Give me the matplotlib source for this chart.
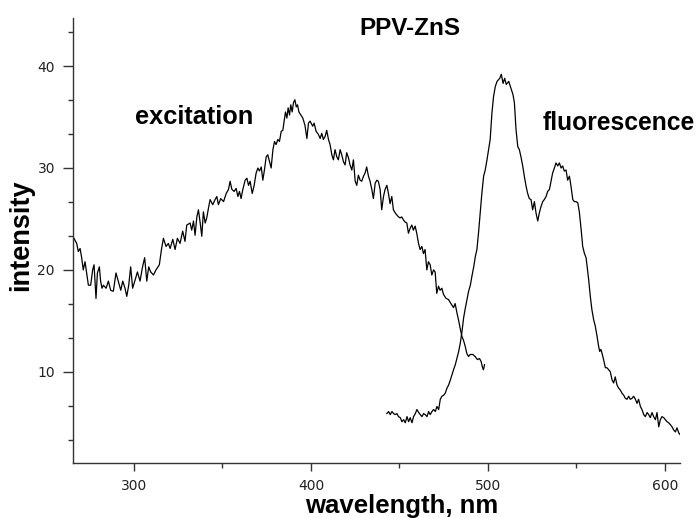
import matplotlib
matplotlib.use("Agg")
import matplotlib.pyplot as plt
from matplotlib.ticker import AutoMinorLocator

# ---------------- data ----------------
ex_wl = [265.7, 267.6, 268.5, 269.5, 270.4, 271.3, 272.3, 273.2, 274.2, 275.5,
         276.6, 277.4, 278.5, 279.3, 280.4, 281.1, 281.9, 282.7, 284.2, 285.5,
         286.8, 288.3, 289.8, 291.1, 292.5, 293.6, 294.9, 295.9, 297.0, 298.1,
         299.2, 300.6, 301.9, 303.4, 304.7, 306.0, 307.2, 308.3, 309.4, 311.0,
         312.4, 314.3, 315.5, 316.6, 318.1, 319.4, 320.4, 321.9, 323.2, 324.5,
         326.0, 327.5, 328.8, 329.8,
         331.7, 332.6, 333.6, 334.5, 335.5, 336.4, 337.4, 338.3, 339.2, 340.2,
         341.1, 342.1, 343.0, 344.5, 345.8, 346.8, 347.7, 349.0, 350.6, 352.1,
         353.4, 354.3, 355.3, 356.6, 357.7, 358.7, 359.6, 360.5, 361.5, 362.8,
         363.8, 364.7, 365.6, 366.8, 367.9, 369.0, 370.0, 370.9, 371.9, 372.8,
         373.7, 374.7, 375.6, 376.6, 377.5, 378.5, 379.4, 380.3, 381.3, 382.2,
         383.2, 384.1, 384.9, 385.6, 386.4, 387.1, 387.9, 388.6, 389.4, 390.1,
         390.9, 391.7, 392.4, 393.2, 394.3, 395.4, 396.6, 397.7, 398.6,
         399.5, 401.0, 401.8, 402.9, 404.2, 405.2, 406.1, 407.0, 408.0, 408.9,
         409.9, 410.8, 411.8, 412.7, 413.6, 414.6, 415.5, 416.5, 417.4, 418.4,
         419.3, 420.2, 421.2, 422.1, 423.1, 424.0, 425.0, 425.9, 426.8, 427.8,
         428.7, 429.7, 430.6, 431.5, 432.5, 433.4, 434.4, 435.3, 436.3, 437.2,
         438.1, 439.1, 440.0, 441.0, 441.9, 442.9, 443.8, 444.7, 445.7, 446.6,
         447.6, 448.5, 449.5, 450.4, 451.3, 452.3, 453.2, 454.2, 455.1, 456.1,
         457.0, 457.9, 458.9, 459.8, 460.8, 461.7, 462.7, 463.6, 464.5, 465.5,
         466.4, 467.4, 468.3, 469.3, 470.2, 471.1, 472.1, 473.0, 474.0, 474.9,
         476.4, 477.7, 479.1, 480.6, 481.5, 482.5, 483.4, 484.3, 485.3, 486.2,
         487.2, 488.1, 489.1, 490.0, 491.5, 492.8, 494.1, 495.3, 496.2, 497.0,
         497.5, 498.1]
ex_int = [23.2, 22.6, 21.8, 22.1, 21.2, 20.0, 20.8, 19.7, 18.5, 18.5,
          20.0, 20.5, 17.2, 19.7, 20.3, 18.9, 18.2, 18.5, 18.2, 18.9,
          18.0, 17.9, 19.7, 18.9, 18.0, 18.9, 18.2, 17.4, 18.5, 20.3,
          18.2, 19.0, 19.8, 18.9, 20.2, 21.2, 18.9, 20.3, 19.8, 19.5,
          20.0, 20.5, 22.0, 23.1, 22.3, 22.6, 22.1, 23.0, 22.0, 23.1,
          22.6, 23.8, 22.8, 24.4,
          24.6, 23.9, 24.8, 23.4, 25.2, 25.9, 24.6, 23.3, 25.7, 24.6,
          25.1, 26.1, 26.9, 26.4, 26.9, 27.2, 26.4, 27.0, 26.7, 27.5,
          27.9, 28.7, 27.9, 27.7, 28.0, 27.2, 27.7, 27.0, 27.9, 28.8,
          29.0, 28.3, 28.7, 27.5, 28.3, 29.5, 30.0, 29.7, 30.1, 28.8,
          29.8, 31.1, 31.3, 30.6, 30.0, 31.8, 32.6, 32.3, 32.8, 32.6,
          33.6, 33.7, 34.7, 35.5, 34.9, 35.9, 35.2, 36.2, 35.5, 36.4,
          36.7, 36.0, 36.2, 35.5, 35.2, 34.9, 34.2, 32.9, 34.4,
          34.6, 34.1, 34.4, 33.6, 33.3, 32.9, 33.4, 32.8, 33.1, 33.7,
          32.8, 32.3, 31.3, 30.8, 31.8, 31.1, 30.8, 31.8, 31.3, 30.6,
          30.3, 31.5, 31.0, 30.3, 29.8, 30.8, 28.7, 28.3, 29.3, 28.8,
          28.7, 29.2, 29.5, 30.1, 29.2, 28.7, 27.9, 27.0, 28.5, 28.8,
          28.7, 27.9, 25.9, 27.2, 27.9, 28.3, 27.5, 26.5, 27.2, 25.9,
          25.6, 25.4, 25.2, 25.1, 25.2, 24.9, 24.7, 24.6, 23.6, 24.1,
          24.4, 23.9, 24.3, 23.6, 22.6, 22.0, 22.3, 21.6, 22.0, 20.0,
          20.8, 20.5, 19.5, 20.0, 19.8, 17.7, 18.4, 18.0, 18.2, 17.6,
          17.2, 17.1, 16.7, 16.3, 16.7, 15.8, 15.1, 14.3, 13.5, 13.1,
          12.5, 11.8, 11.5, 11.7, 11.7, 11.5, 11.2, 11.3, 11.0, 10.4,
          10.2, 10.7]

fl_wl = [442.9, 443.9, 444.8, 445.8, 446.7, 447.7, 448.6, 449.5, 450.5, 451.4,
         452.4, 453.3, 454.3, 455.2, 456.1, 457.1, 458.0, 459.0, 459.9, 460.9,
         461.8, 462.7, 463.7, 464.6, 465.6, 466.5, 467.4, 468.4, 469.3, 470.3,
         471.2, 472.2, 473.1, 474.0, 475.0, 475.9, 476.9, 477.8, 478.8, 479.7,
         480.6, 481.6, 482.5, 483.5, 484.4, 485.4, 486.3, 487.2, 488.2, 489.1,
         490.1, 491.0, 492.0, 492.9, 493.8, 494.7, 495.7, 496.6, 497.6, 498.5,
         499.5, 500.4, 501.3, 502.3, 503.2, 504.2, 505.2, 506.7, 507.6, 508.6,
         509.5, 510.4, 511.8, 513.1, 514.2, 515.0, 515.9, 516.9, 517.8, 518.7,
         519.7, 520.6, 521.6, 522.5, 523.4, 524.4, 525.3, 526.3, 527.2, 528.2,
         529.1, 530.0, 531.0, 531.9, 532.9, 533.8, 534.8, 535.7, 536.6, 537.6,
         538.5, 539.5, 540.4, 541.4, 542.3, 543.2, 544.2, 545.1, 546.1, 547.0,
         548.0, 548.9, 549.8, 550.8, 551.7, 552.7, 553.6, 554.6, 555.5, 556.0,
         557.0, 557.9, 558.8, 559.8, 560.7, 561.7, 562.6, 563.2, 563.9, 564.7,
         565.4, 566.4, 567.3, 568.3, 569.2, 570.2, 571.1, 572.0, 573.0, 573.9,
         574.9, 575.8, 576.8, 577.7, 578.6, 579.6, 580.5, 581.5, 582.4, 583.4,
         584.3, 585.2, 586.2, 587.1, 588.1, 589.0, 590.0, 590.9, 591.8, 592.8,
         593.7, 594.7, 595.6, 596.6, 597.5, 598.4, 599.4, 600.3, 601.3, 602.2,
         603.2, 604.1, 605.0, 606.0, 606.9, 607.9, 608.8]
fl_int = [5.9, 6.1, 5.8, 6.1, 5.9, 5.8, 5.9, 5.6, 5.5, 5.1,
          5.3, 5.0, 5.6, 5.1, 5.5, 5.0, 5.6, 5.9, 6.3, 6.0,
          5.8, 5.6, 5.9, 5.8, 5.6, 6.1, 5.8, 6.1, 6.3, 6.1,
          6.6, 6.3, 7.3, 7.6, 7.7, 7.9, 8.4, 8.7, 9.2, 9.7,
          10.2, 10.7, 11.3, 12.0, 12.8, 14.0, 15.3, 16.2, 17.1, 17.9,
          18.5, 19.4, 20.3, 21.3, 22.0, 23.6, 25.6, 27.5, 29.2, 29.8,
          30.8, 31.8, 32.8, 35.4, 37.0, 38.0, 38.5, 38.8, 39.2, 38.3,
          38.8, 38.2, 38.5, 37.8, 37.2, 36.4, 33.8, 32.1, 31.8, 31.1,
          30.2, 29.2, 28.2, 27.5, 27.0, 26.9, 25.9, 26.7, 25.6, 24.8,
          25.6, 26.2, 26.7, 26.9, 27.2, 27.7, 27.9, 28.7, 29.5, 30.0,
          30.5, 30.2, 30.5, 30.0, 30.2, 29.7, 29.8, 28.8, 29.2, 28.2,
          26.9, 26.7, 26.7, 26.6, 25.7, 24.0, 22.3, 21.6, 21.2, 20.5,
          19.0, 17.4, 16.1, 15.1, 14.5, 13.5, 12.5, 12.0, 12.2, 11.7,
          11.2, 10.4, 10.4, 10.2, 10.0, 9.2, 8.9, 9.5, 8.7, 8.4,
          8.2, 7.9, 7.7, 7.4, 7.3, 7.6, 7.3, 7.4, 7.6, 7.3,
          6.9, 7.3, 6.6, 6.3, 5.8, 5.6, 6.0, 5.8, 5.5, 6.0,
          5.6, 5.3, 6.0, 4.6, 5.3, 5.6, 5.5, 5.3, 5.1, 5.0,
          4.8, 4.6, 4.3, 4.1, 4.5, 4.0, 3.8]

x_ticks = [300, 400, 500, 600]
y_ticks = [10, 20, 30, 40]
title_text = "PPV-ZnS"
x_label = "wavelength, nm"
y_label = "intensity"
ex_label = "excitation"
fl_label = "fluorescence"

# ---------------- figure ----------------
W, H = 700, 518
fig = plt.figure(figsize=(W / 100, H / 100), dpi=100)
ax = fig.add_axes([73 / W, 1 - 463 / H, (680 - 73) / W, (463 - 18) / H])

ax.plot(ex_wl, ex_int, color="black", lw=0.9)
ax.plot(fl_wl, fl_int, color="black", lw=0.9)

ax.set_xlim(265.5, 608.6)
ax.set_ylim(1.05, 44.72)
ax.set_xticks(x_ticks)
ax.set_yticks(y_ticks)
ax.xaxis.set_minor_locator(AutoMinorLocator(2))
ax.yaxis.set_minor_locator(AutoMinorLocator(3))

for s in ["top", "right"]:
    ax.spines[s].set_visible(False)
for s in ["left", "bottom"]:
    ax.spines[s].set_color("#333333")
    ax.spines[s].set_linewidth(1.0)

ax.tick_params(axis="x", which="major", length=6, width=1.0, color="#333333",
               labelsize=10, labelcolor="#222222", pad=5.5)
ax.tick_params(axis="y", which="major", length=7, width=1.0, color="#333333",
               labelsize=10, labelcolor="#222222", pad=6)
ax.tick_params(which="minor", length=3.5, width=1.0, color="#333333")
for lbl in ax.get_xticklabels() + ax.get_yticklabels():
    lbl.set_family("DejaVu Sans")

def ftext(px, py, s, **kw):
    fig.text(px / W, 1 - py / H, s, fontweight="bold", color="black",
             family="Liberation Sans", **kw)

ftext(359, 35, title_text, fontsize=17.5, ha="left", va="baseline")
ftext(135, 124.5, ex_label, fontsize=18.3, ha="left", va="baseline")
ftext(543, 130.5, fl_label, fontsize=17.7, ha="left", va="baseline")
ftext(305, 513.5, x_label, fontsize=18.5, ha="left", va="baseline")
ftext(21, 235.5, y_label, fontsize=19.5, ha="center", va="center", rotation=90)

fig.savefig("out.png", dpi=100)
